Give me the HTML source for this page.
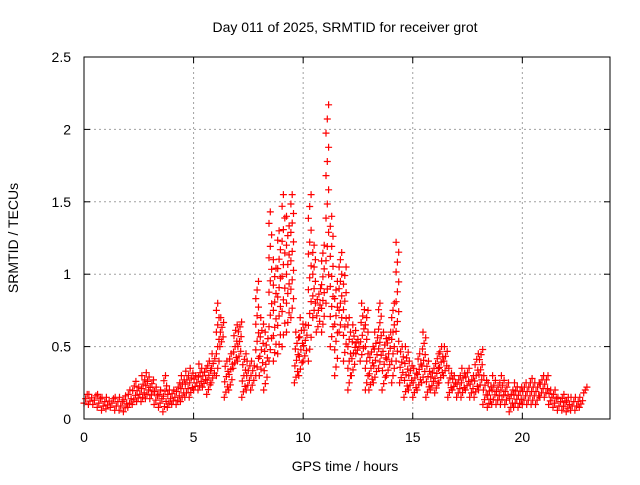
<!DOCTYPE html>
<html><head><meta charset="utf-8"><style>
body{margin:0;background:#fff}
svg text{font-family:"Liberation Sans",sans-serif;font-size:14px;fill:#000}
</style></head><body>
<svg id="c" width="640" height="480" xmlns="http://www.w3.org/2000/svg">
<text x="345" y="32" text-anchor="middle">Day 011 of 2025, SRMTID for receiver grot</text>
<text x="345" y="471" text-anchor="middle">GPS time / hours</text>
<text x="0" y="0" transform="translate(18,238) rotate(-90)" text-anchor="middle">SRMTID / TECUs</text>
<g id="grid"></g><g id="pts"></g><g id="axes"></g>
</svg>
<script>
const xTicks=[0,5,10,15,20];
const yTicks=[0,0.5,1,1.5,2,2.5];
const yTickLabels=["0","0.5","1","1.5","2","2.5"];
const binStart=0, binWidth=0.2;
const lowValues=[0.11,0.10,0.10,0.08,0.06,0.07,0.08,0.06,0.06,0.05,
0.08,0.10,0.12,0.12,0.14,0.14,0.10,0.08,0.05,0.08,
0.10,0.10,0.12,0.15,0.15,0.20,0.20,0.22,0.17,0.25,
0.30,0.50,0.15,0.20,0.35,0.40,0.15,0.20,0.20,0.30,
0.30,0.20,0.40,0.40,0.45,0.50,0.60,0.70,0.25,0.30,
0.40,0.40,0.70,0.60,0.60,0.80,0.50,0.30,0.60,0.40,
0.20,0.30,0.45,0.40,0.20,0.20,0.25,0.35,0.20,0.30,
0.25,0.40,0.25,0.15,0.20,0.15,0.20,0.25,0.15,0.20,
0.18,0.25,0.30,0.15,0.20,0.15,0.15,0.20,0.15,0.15,
0.20,0.10,0.08,0.10,0.10,0.10,0.10,0.05,0.08,0.08,
0.10,0.10,0.10,0.10,0.15,0.15,0.10,0.08,0.06,0.06,
0.05,0.06,0.06,0.08,0.18];
const highValues=[0.17,0.17,0.16,0.17,0.15,0.15,0.14,0.15,0.15,0.16,
0.20,0.26,0.22,0.30,0.32,0.27,0.22,0.20,0.30,0.20,
0.20,0.25,0.30,0.33,0.35,0.30,0.38,0.35,0.40,0.45,
0.80,0.70,0.40,0.45,0.65,0.67,0.45,0.40,0.40,0.95,
0.70,0.60,1.43,1.10,1.30,1.55,1.40,1.55,0.60,0.70,
0.65,1.55,1.20,0.90,1.20,2.17,1.40,0.95,1.15,1.05,
0.70,0.65,0.55,0.80,0.75,0.50,0.60,0.80,0.60,0.60,
0.80,1.22,0.50,0.50,0.40,0.35,0.45,0.60,0.40,0.35,
0.45,0.50,0.50,0.35,0.30,0.30,0.35,0.35,0.30,0.45,
0.48,0.30,0.25,0.30,0.25,0.30,0.25,0.20,0.25,0.22,
0.25,0.25,0.28,0.25,0.30,0.30,0.20,0.20,0.15,0.17,
0.15,0.15,0.15,0.15,0.22];
const L=84,R=610,T=57,B=419,xMax=24,yMax=2.5;
const X=v=>L+v/xMax*(R-L), Y=v=>B-v/yMax*(B-T);
const NS="http://www.w3.org/2000/svg";
function mk(tag,at,parent){const e=document.createElementNS(NS,tag);for(const k in at)e.setAttribute(k,at[k]);parent.appendChild(e);return e;}
const grid=document.getElementById('grid'),axes=document.getElementById('axes'),pts=document.getElementById('pts');
xTicks.forEach(t=>{const x=X(t);
 if(t>0){const g=mk('line',{x1:x,x2:x,y1:T,y2:B,stroke:'#a0a0a0','stroke-dasharray':'2,3'},grid);
 
 }
 mk('line',{x1:x,x2:x,y1:B,y2:B-6,stroke:'#000'},axes);mk('line',{x1:x,x2:x,y1:T,y2:T+6,stroke:'#000'},axes);
 const tx=mk('text',{x:x,y:B+23,'text-anchor':'middle'},axes);tx.textContent=t;
 
 });
yTicks.forEach((t,i)=>{const y=Y(t);
 if(t>0&&t<yMax){const g=mk('line',{x1:L,x2:R,y1:y,y2:y,stroke:'#a0a0a0','stroke-dasharray':'2,3'},grid);
 
 }
 mk('line',{x1:L,x2:L+6,y1:y,y2:y,stroke:'#000'},axes);mk('line',{x1:R,x2:R-6,y1:y,y2:y,stroke:'#000'},axes);
 const tx=mk('text',{x:L-13,y:y+5,'text-anchor':'end'},axes);tx.textContent=yTickLabels[i];
 
 });
const fr=mk('rect',{x:L,y:T,width:R-L,height:B-T,fill:'none',stroke:'#000'},axes);


let d='';
lowValues.forEach((lo,i)=>{const hi=highValues[i];const t0=binStart+i*binWidth;
 const y1=Y(lo),y2=Y(hi);const span=y1-y2;const step=3+span/18;
 const n=Math.max(1,Math.round(span/step));
 for(let k=0;k<=n;k++){const y=y1+(y2-y1)*k/n;const frac=span>60?((k%3)*0.3+0.2):((k*0.37)%1);const x=X(t0+binWidth*frac);
  d+=`M${(x-3.5).toFixed(1)} ${y.toFixed(1)}h7M${x.toFixed(1)} ${(y-3.5).toFixed(1)}v7`;}
});
const p=mk('path',{d:d,stroke:'#ff0000','stroke-width':1.2,fill:'none'},pts);


</script>
</body></html>
